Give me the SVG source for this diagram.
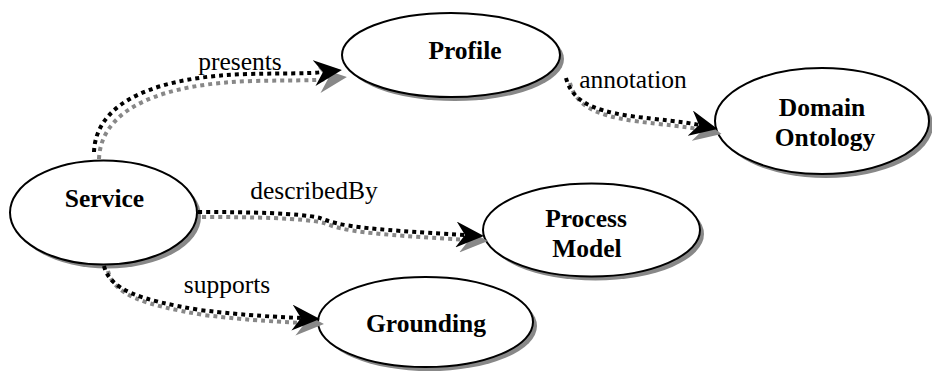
<svg xmlns="http://www.w3.org/2000/svg" width="932" height="372" viewBox="0 0 932 372">
<style>
.sh{fill:#888;stroke:none}
.nd{fill:#fff;stroke:#000;stroke-width:2}
text{font-family:'Liberation Serif','Times New Roman',serif;font-size:25.5px;text-anchor:middle;fill:#000}
.nl{font-weight:bold}
.lb{fill:none;stroke:#000;stroke-width:4;stroke-dasharray:4 4;marker-end:url(#ab)}
.lg{fill:none;stroke:#888;stroke-width:4;stroke-dasharray:4 4;marker-end:url(#ag)}
</style>
<defs>
<marker id="ab" viewBox="0 0 28 26" markerWidth="28" markerHeight="26" refX="9" refY="13" orient="auto" markerUnits="userSpaceOnUse">
<path d="M0,0 L28,13 L0,26 L9,13 Z" fill="#000"/>
</marker>
<marker id="ag" viewBox="0 0 28 26" markerWidth="28" markerHeight="26" refX="9" refY="13" orient="auto" markerUnits="userSpaceOnUse">
<path d="M0,0 L28,13 L0,26 L9,13 Z" fill="#888"/>
</marker>
</defs>
<rect width="932" height="372" fill="#fff"/>
<g id="service">
<ellipse class="sh" cx="107.5" cy="216.5" rx="93.5" ry="52"/>
<ellipse class="nd" cx="103.5" cy="212.5" rx="93.5" ry="52"/>
<text class="nl" x="104.5" y="207">Service</text>
</g>
<g id="profile">
<ellipse class="sh" cx="455" cy="59" rx="109" ry="42"/>
<ellipse class="nd" cx="451" cy="55" rx="109" ry="42"/>
<text class="nl" x="465" y="59">Profile</text>
</g>
<g id="domain-ontology">
<ellipse class="sh" cx="826" cy="125" rx="107" ry="53"/>
<ellipse class="nd" cx="822" cy="121" rx="107" ry="53"/>
<text class="nl" x="822" y="116">Domain</text>
<text class="nl" x="825" y="146">Ontology</text>
</g>
<g id="process-model">
<ellipse class="sh" cx="595.5" cy="234" rx="108.5" ry="46.5"/>
<ellipse class="nd" cx="591.5" cy="230" rx="108.5" ry="46.5"/>
<text class="nl" x="586" y="227">Process</text>
<text class="nl" x="587" y="257">Model</text>
</g>
<g id="grounding">
<ellipse class="sh" cx="429.5" cy="326" rx="107.5" ry="45"/>
<ellipse class="nd" cx="425.5" cy="322" rx="107.5" ry="45"/>
<text class="nl" x="426" y="332">Grounding</text>
</g>
<g id="connectors">
<path class="lg" transform="translate(5,7)" d="M94,152 C96,100 160,76 250,74 C285,73 305,74 323,72"/>
<g transform="translate(4,5)">
<path class="lg" d="M566,78 C572,100 590,110 630,116 C660,120 680,121 699,125"/>
<path class="lg" d="M198,212 C250,212 300,213 320,218 C340,226 360,229 465,235"/>
<path class="lg" d="M104,266 C110,290 140,300 200,310 C250,316 280,317 301,318"/>
</g>
<path class="lb" d="M94,152 C96,100 160,76 250,74 C285,73 305,74 323,72"/>
<path class="lb" d="M566,78 C572,100 590,110 630,116 C660,120 680,121 699,125"/>
<path class="lb" d="M198,212 C250,212 300,213 320,218 C340,226 360,229 465,235"/>
<path class="lb" d="M104,266 C110,290 140,300 200,310 C250,316 280,317 301,318"/>
<text x="240" y="70">presents</text>
<text x="633" y="88">annotation</text>
<text x="314" y="199">describedBy</text>
<text x="227" y="293">supports</text>
</g>
</svg>
